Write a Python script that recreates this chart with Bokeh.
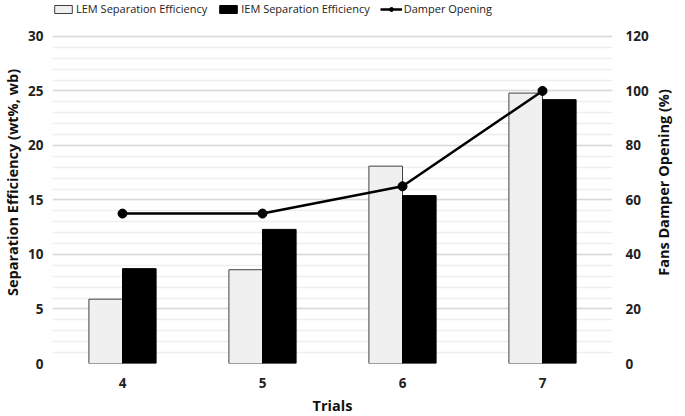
from bokeh.plotting import figure
from bokeh.layouts import row
from bokeh.models import (FactorRange, Range1d, LinearAxis, SingleIntervalTicker,
                          Legend, LegendItem, ColumnDataSource, Title)
from bokeh.transform import dodge
from bokeh.embed import file_html
from bokeh.resources import INLINE

trials = ["4", "5", "6", "7"]
lem = [5.9, 8.6, 18.1, 24.8]
iem = [8.7, 12.3, 15.4, 24.2]
damper = [55, 55, 65, 100]

src = ColumnDataSource(dict(x=trials, lem=lem, iem=iem, damper=damper))

FONT = "Open Sans"
FW, FH = 560, 362
YTOP = 33.2

p = figure(frame_width=FW, frame_height=FH, x_range=FactorRange(*trials),
           y_range=Range1d(0, YTOP),
           output_backend="svg", toolbar_location=None,
           min_border_left=10, min_border_right=0, min_border_top=1, min_border_bottom=10)
p.extra_y_ranges = {"d": Range1d(0, YTOP * 4)}
p.outline_line_color = None

lem_r = p.vbar(x=dodge("x", -0.12, range=p.x_range), top="lem", width=0.24, source=src,
               fill_color="#f0f0f0", line_color="#404040", line_width=1)
iem_r = p.vbar(x=dodge("x", 0.12, range=p.x_range), top="iem", width=0.24, source=src,
               fill_color="#000000", line_color="#000000", line_width=1)
ln = p.line(x="x", y="damper", source=src, y_range_name="d", line_color="black", line_width=2.5)
sc = p.scatter(x="x", y="damper", source=src, y_range_name="d", size=9,
               fill_color="black", line_color="black")

yax = p.yaxis[0]
yax.ticker = SingleIntervalTicker(interval=5, num_minor_ticks=5)
yax.axis_label = "Separation Efficiency (wt%, wb)"
yax.bounds = (0, 30)
rax = LinearAxis(y_range_name="d", ticker=SingleIntervalTicker(interval=20, num_minor_ticks=0),
                 bounds=(0, 120))
p.add_layout(rax, "right")

p.xaxis.axis_label = "Trials"

for ax in [yax, rax, p.xaxis[0]]:
    ax.axis_line_color = None
    ax.major_tick_line_color = None
    ax.minor_tick_line_color = None
    ax.major_tick_in = 0
    ax.major_tick_out = 0
    ax.minor_tick_in = 0
    ax.minor_tick_out = 0
    ax.major_label_text_font = FONT
    ax.major_label_text_font_style = "bold"
    ax.major_label_text_font_size = "13.5px"
    ax.major_label_text_color = "#222222"
    ax.axis_label_text_font = FONT
    ax.axis_label_text_font_style = "bold"
    ax.axis_label_text_font_size = "14.5px"
    ax.axis_label_text_color = "#111111"
    ax.axis_label_standoff = 3
    ax.major_label_standoff = 9

rax.major_label_standoff = 13
p.xaxis.major_label_standoff = 14
p.xaxis.axis_label_standoff = 5

p.xgrid.grid_line_color = None
p.ygrid.grid_line_color = "#d9d9d9"
p.ygrid.grid_line_width = 1.5
p.ygrid.minor_grid_line_color = "#eeeeee"
p.ygrid.minor_grid_line_width = 1.5
p.ygrid.bounds = (0, 30)

legend = Legend(items=[
    LegendItem(label="LEM Separation Efficiency", renderers=[lem_r]),
    LegendItem(label="IEM Separation Efficiency", renderers=[iem_r]),
    LegendItem(label="Damper Opening", renderers=[ln, sc]),
], orientation="horizontal", location=(0, FH - 15))
legend.border_line_color = None
legend.background_fill_alpha = 0
legend.label_text_font = FONT
legend.label_text_font_size = "11px"
legend.label_text_color = "#222222"
legend.glyph_width = 22
legend.glyph_height = 10
legend.label_standoff = 2
legend.spacing = 10
legend.padding = 0
legend.margin = 0
legend.label_height = 14
p.add_layout(legend, "center")

# right-hand axis title, reading bottom-to-top like the reference
p2 = figure(frame_width=1, frame_height=FH, output_backend="svg", toolbar_location=None,
            x_axis_type=None, y_axis_type=None, min_border_left=0, min_border_right=0,
            min_border_top=1, min_border_bottom=10)
p2.outline_line_color = None
p2.xgrid.grid_line_color = None
p2.ygrid.grid_line_color = None
rtitle = Title(text="Fans Damper Opening (%)", align="center", text_font=FONT,
               text_font_style="bold", text_font_size="14.5px", text_color="#111111",
               standoff=0, offset=0)
p2.add_layout(rtitle, "left")

layout = row(p, p2, spacing=0)
open("out.html", "w").write(file_html(layout, INLINE))
